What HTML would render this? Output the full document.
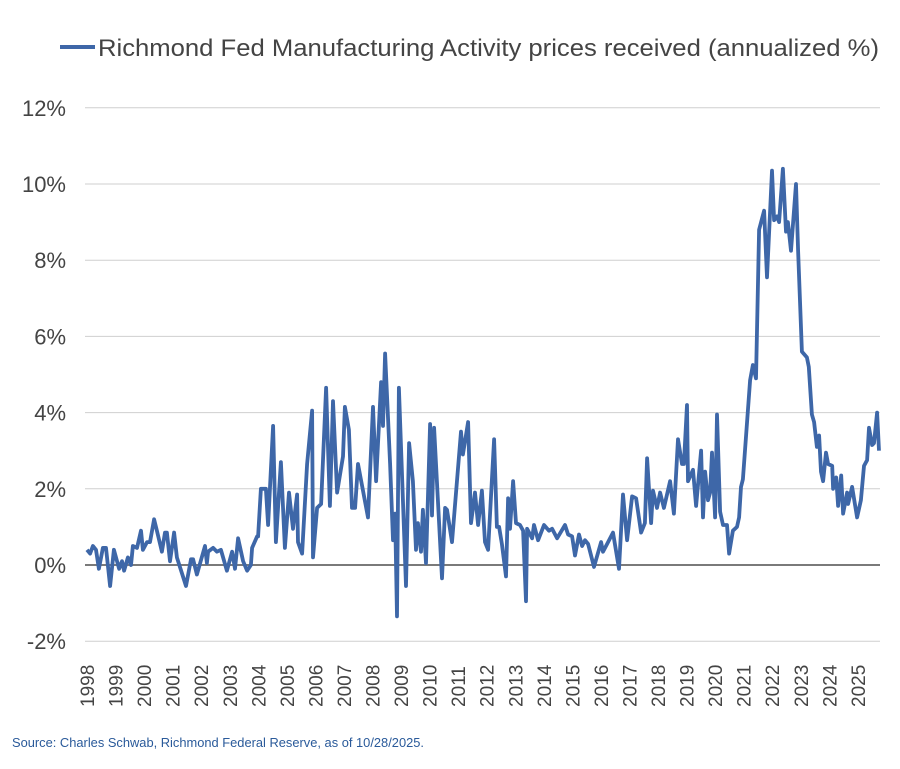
<!DOCTYPE html>
<html><head><meta charset="utf-8"><style>
body{margin:0;background:#fff;width:900px;height:764px;overflow:hidden;font-family:"Liberation Sans",sans-serif}
svg text{font-family:"Liberation Sans",sans-serif}
</style></head><body>
<svg width="900" height="764">
<g id="grid"></g><g id="ylab"></g><g id="xlab"></g>
<g>
<line x1="60" y1="47" x2="95" y2="47" stroke="#3e67a8" stroke-width="4"/>
<text x="98" y="56" font-size="24" fill="#444" textLength="781" lengthAdjust="spacingAndGlyphs">Richmond Fed Manufacturing Activity prices received (annualized %)</text>
</g>
<path id="line" fill="none" stroke="#3e67a8" stroke-width="3.8" stroke-linejoin="round"/>
<text x="12" y="747" font-size="12.5" fill="#2a5a9a" textLength="412" lengthAdjust="spacingAndGlyphs">Source: Charles Schwab, Richmond Federal Reserve, as of 10/28/2025.</text>
</svg>
<script>
const yTicks=[-2,0,2,4,6,8,10,12];
const years=[1998,1999,2000,2001,2002,2003,2004,2005,2006,2007,2008,2009,2010,2011,2012,2013,2014,2015,2016,2017,2018,2019,2020,2021,2022,2023,2024,2025];
const months=[0,1.3,2.5,3.8,5,6.7,8,9.7,11.3,13.5,14.7,15.6,17.2,18.5,19.3,21,22.7,23.5,25.2,26.5,28.2,29.4,31.5,32.8,33.6,34.9,36.6,37.8,41.6,43.7,44.6,46.2,49.6,50.4,50.9,53,54.6,56.3,58.8,61,62.2,63.5,65.6,67.3,68.9,69.4,71.5,71.9,73.1,75.2,76.1,78.2,79.4,81.5,83.2,84.9,86.6,88.3,88.7,90.4,92.5,94.6,95,96.7,98.4,100.5,102.1,103.4,105.1,107.6,108.4,110.1,111.4,112.7,113.9,118.1,120.2,121.5,123.6,124.4,125.3,127.4,128.6,129.5,130.3,131.1,134.1,135.4,137,138.3,139.1,140.4,141.2,142.5,144.2,145,145.9,149.2,150.5,151.3,153.4,157.2,158,160.2,161.4,163.1,164.4,166,167.3,168.6,171.1,172.3,173.2,174.4,176.1,177,177.8,179.1,180.3,182,183.3,184.5,185,187.1,187.9,189.6,192.1,194.2,195.5,197.6,200.9,202.2,203.9,205.1,206.8,208.1,209.3,210.6,213.1,216.1,216.9,218.6,221.1,223.6,225.3,227,229.1,230.8,232.9,234.5,235.4,237.1,237.9,239.6,240.9,242.5,245.1,246.7,248.4,250.1,250.9,252.2,252.6,254.7,256,258.1,258.9,259.8,261,261.9,262.7,264,264.8,266.1,267.3,269,269.9,271.5,273.2,274.1,274.9,275.7,278.7,279.9,281.2,282.5,284.6,285.8,287.9,288.8,290,290.9,292.5,293.8,294.6,295.9,298,298.9,300.5,302.6,303.4,304.7,305.6,306.8,307.7,308.5,309.4,310.6,311.5,313.2,313.6,314.9,315.7,317,317.8,319.5,319.9,321.6,323.7,325.3,326.6,327.9,328.7,330,330.8,332.1,332.9];
const values=[0.4,0.3,0.5,0.4,-0.1,0.45,0.45,-0.55,0.4,-0.1,0.1,-0.15,0.2,0,0.5,0.45,0.9,0.4,0.6,0.6,1.2,0.9,0.35,0.85,0.85,0.1,0.85,0.2,-0.55,0.15,0.15,-0.25,0.5,0.05,0.35,0.45,0.35,0.4,-0.15,0.35,-0.1,0.7,0.1,-0.15,0,0.45,0.75,0.75,2.0,2.0,1.05,3.65,0.6,2.7,0.45,1.9,0.95,1.85,0.6,0.3,2.65,4.05,0.2,1.5,1.6,4.65,1.55,4.3,1.9,2.85,4.15,3.55,1.5,1.5,2.65,1.25,4.15,2.2,4.8,3.65,5.55,2.65,0.65,1.35,-1.35,4.65,-0.55,3.2,2.2,0.4,1.1,0.35,1.45,0.05,3.7,1.3,3.6,-0.35,1.5,1.45,0.6,3.5,2.9,3.75,1.1,1.9,1.05,1.95,0.6,0.4,3.3,1.0,1.0,0.55,-0.3,1.75,0.95,2.2,1.1,1.05,0.9,-0.95,0.95,0.7,1.05,0.65,1.05,0.9,0.95,0.7,1.05,0.8,0.75,0.25,0.8,0.5,0.65,0.55,-0.05,0.6,0.35,0.55,0.85,-0.1,1.85,0.65,1.8,1.75,0.85,1.1,2.8,1.1,1.95,1.5,1.9,1.5,2.2,1.35,3.3,2.65,2.65,4.2,2.2,2.5,1.55,3.0,1.25,2.45,1.7,1.9,2.95,1.25,3.95,1.4,1.05,1.05,0.3,0.9,1.0,1.25,2.05,2.25,4.85,5.25,4.9,8.8,9.3,7.55,10.35,9.05,9.15,9.0,10.4,8.75,9.0,8.25,10.0,8.25,5.6,5.45,5.2,3.95,3.75,3.1,3.4,2.45,2.2,2.95,2.65,2.6,2.0,2.3,1.55,2.35,1.35,1.9,1.6,2.05,1.25,1.7,2.6,2.75,3.6,3.15,3.2,4.0,3.0];
const X0=87,X1=880;
const xS=m=>X0+m*(28.55/12);
const yS=v=>565-v*38.1;
const NS='http://www.w3.org/2000/svg';
const grid=document.getElementById('grid'),yl=document.getElementById('ylab'),xl=document.getElementById('xlab');
yTicks.forEach(t=>{
 const l=document.createElementNS(NS,'line');
 l.setAttribute('x1',X0-2);l.setAttribute('x2',X1);l.setAttribute('y1',yS(t));l.setAttribute('y2',yS(t));
 l.setAttribute('stroke',t===0?'#7a7a7a':'#cfcfcf');l.setAttribute('stroke-width',t===0?2:1);
 
 
 grid.appendChild(l);
 const tx=document.createElementNS(NS,'text');
 tx.setAttribute('x',66);tx.setAttribute('y',yS(t)+8);tx.setAttribute('text-anchor','end');
 tx.setAttribute('font-size','22');tx.setAttribute('fill','#444');tx.textContent=t+'%';
 
 
 yl.appendChild(tx);
});
years.forEach((y,i)=>{
 const x=xS(i*12);
 const tx=document.createElementNS(NS,'text');
 tx.setAttribute('transform','translate('+(x+7)+',707) rotate(-90)');
 tx.setAttribute('font-size','19');tx.setAttribute('fill','#444');tx.textContent=y;
 
 
 xl.appendChild(tx);
});
document.getElementById('line').setAttribute('d',months.map((m,i)=>(i?'L':'M')+xS(m).toFixed(1)+','+yS(values[i]).toFixed(1)).join(''));
</script>
</body></html>
